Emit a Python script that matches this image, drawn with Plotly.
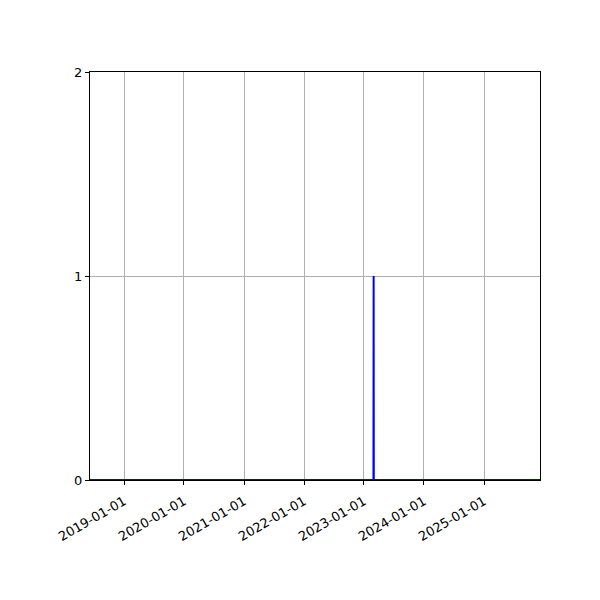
import plotly.graph_objects as go

# Series: zero everywhere except one spike
dates = ["2018-06-08", "2023-02-28", "2023-03-01", "2023-03-02", "2025-12-08"]
values = [0, 0, 1, 0, 0]

tick_dates = ["2019-01-01", "2020-01-01", "2021-01-01", "2022-01-01",
              "2023-01-01", "2024-01-01", "2025-01-01"]
y_ticks = [0, 1, 2]

fig = go.Figure()
fig.add_trace(go.Scatter(
    x=dates, y=values, mode="lines",
    line=dict(color="blue", width=2),
    showlegend=False, cliponaxis=False
))

# page body has an 8px margin, so margins are shifted to compensate
fig.update_layout(
    width=600, height=600,
    margin=dict(l=82, r=68, t=64, b=128),
    plot_bgcolor="white", paper_bgcolor="white",
    font=dict(family="DejaVu Sans", size=13, color="black"),
)

fig.update_xaxes(
    type="date", range=["2018-06-08", "2025-12-08"],
    tickvals=tick_dates, ticktext=tick_dates, tickangle=-30,
    ticklabelstandoff=4,
    showgrid=True, gridcolor="#b0b0b0", gridwidth=1,
    showline=True, linecolor="black", linewidth=1, mirror=True,
    ticks="outside", ticklen=4, tickcolor="black", zeroline=False,
)
fig.update_yaxes(
    range=[0, 2], tickvals=y_ticks,
    showgrid=True, gridcolor="#b0b0b0", gridwidth=1,
    showline=True, linecolor="black", linewidth=1, mirror=True,
    ticks="outside", ticklen=4, tickcolor="black", zeroline=False,
)

fig.write_html("out.html")
